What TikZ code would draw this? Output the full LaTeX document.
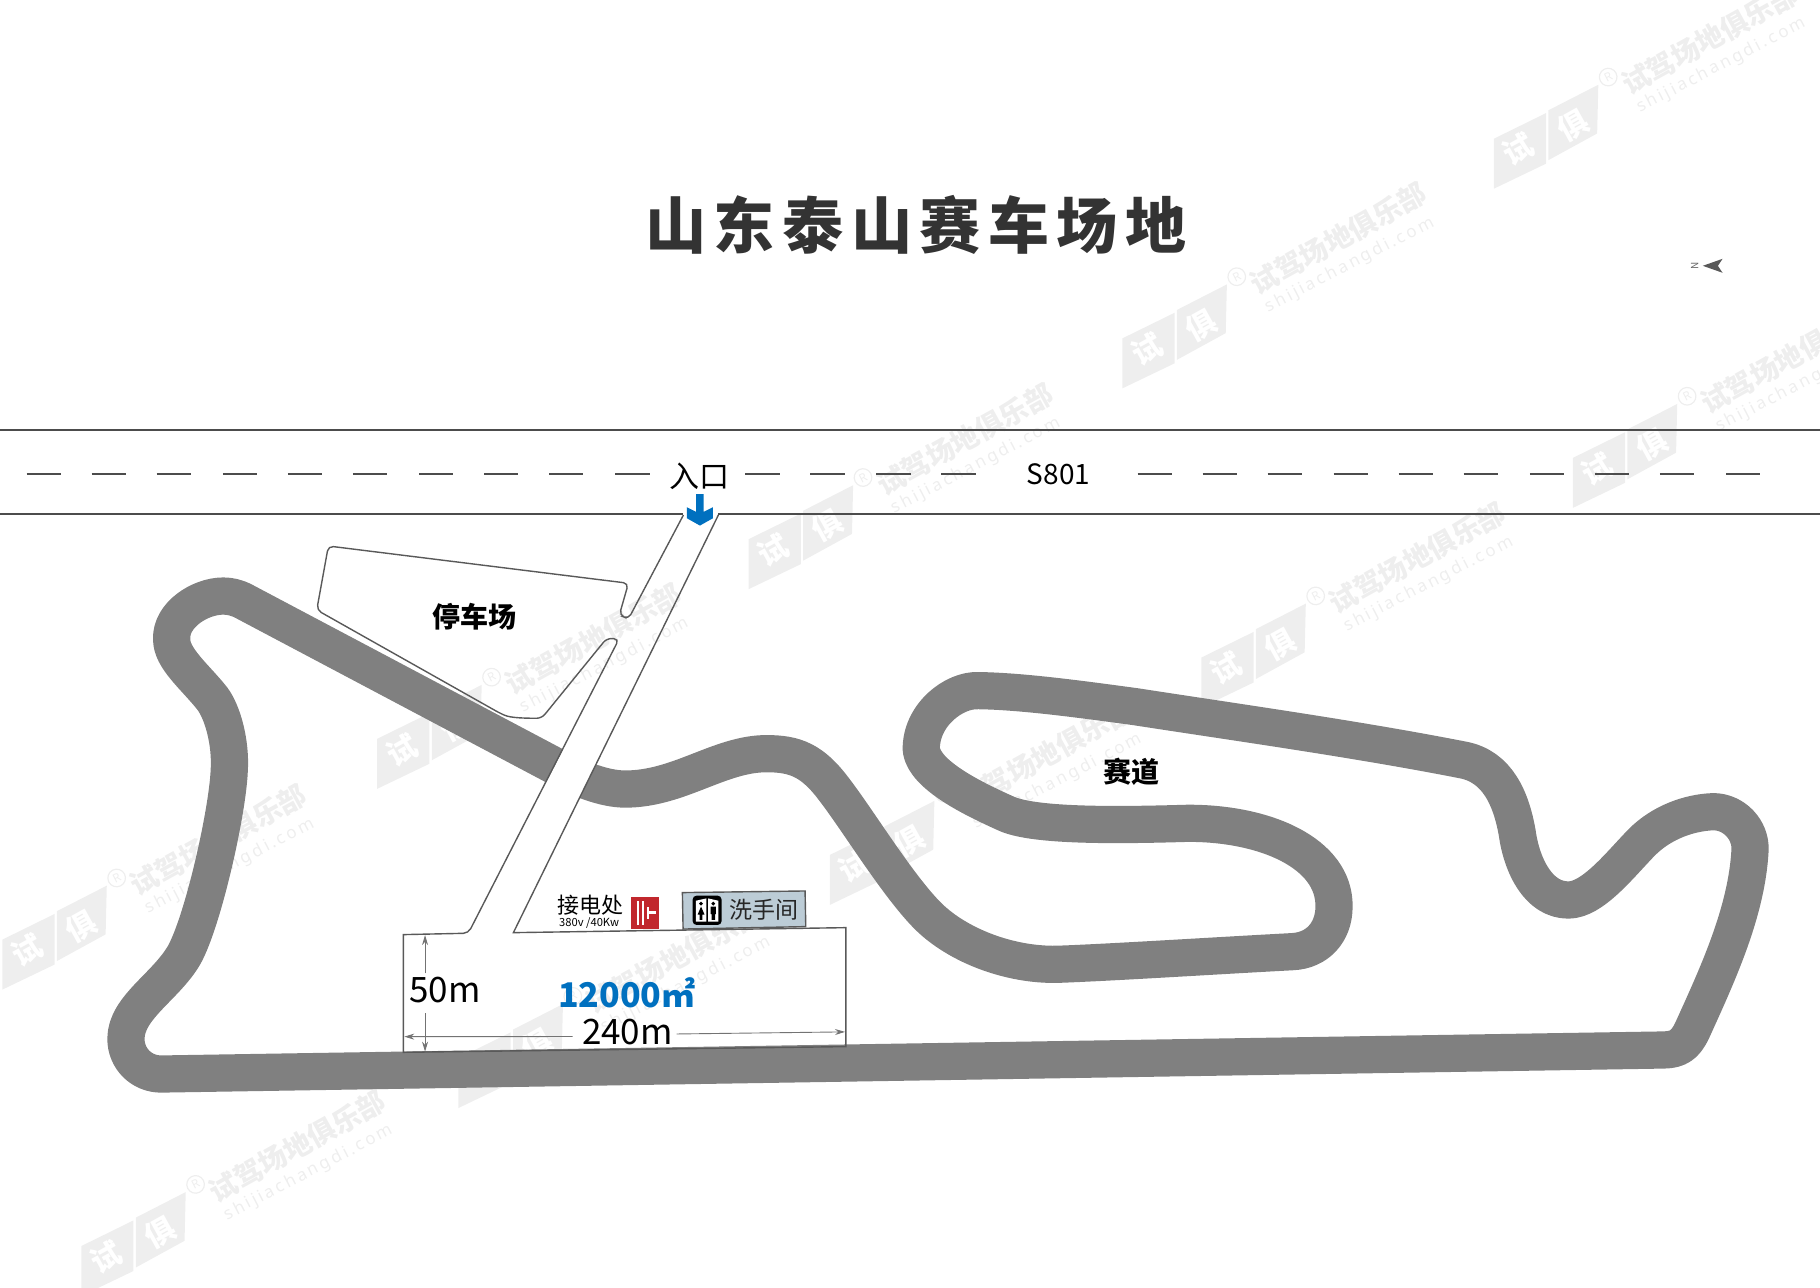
\documentclass[tikz,border=0pt]{standalone}
\usepackage{fontspec}
\setmainfont{Noto Sans CJK SC}
\newfontfamily\urlfont[LetterSpace=16]{Noto Sans}
\newfontfamily\titlefont[LetterSpace=12.5]{Noto Sans CJK SC}
\usetikzlibrary{arrows.meta}
\definecolor{trackgray}{HTML}{808080}
\definecolor{markgray}{HTML}{EEEEEE}
\definecolor{siteblue}{HTML}{0070BF}
\definecolor{powerred}{HTML}{C1272D}
\definecolor{signblue}{HTML}{BCCCD6}
\tikzset{
  track/.style={draw=trackgray, line width=18.6pt, line join=round},
  outline/.style={draw=black!65, line width=0.7pt},
  lane/.style={draw=black!70, line width=0.8pt},
  dimline/.style={draw=black!55, line width=0.45pt, -{Stealth[length=5pt,width=3pt]}},
  marktext/.style={text=markgray, font=\bfseries\fontsize{14}{14}\selectfont, rotate=29},
  markurl/.style={text=markgray, font=\urlfont\fontsize{8.5}{8.5}\selectfont, rotate=27.5},
  logochar/.style={text=white, font=\bfseries\fontsize{15}{15}\selectfont, rotate=29, inner sep=0pt},
  place/.style={font=\bfseries\fontsize{14}{14}\selectfont, inner sep=0pt},
  plain/.style={font=\fontsize{#1}{#1}\selectfont, inner sep=0pt}
}
\begin{document}
\begin{tikzpicture}[x=0.58036pt, y=-0.58036pt]
    \useasboundingbox (0,0) rectangle (1568,1108.8);

    % watermark
    \foreach \lx/\ly [count=\k] in {1332/118, 1012/290, 690/463, 1400/393, 1080/565,
        370/635, 760/735, 47/808, 440/910, 115/1072} {
        \begin{scope}[shift={(\lx,\ly)}]
            \fill[markgray] (-45,1.5) -- (0,-20.6) -- (0,23) -- (-45,44.6) -- cycle;
            \fill[markgray] (2,-23) -- (45,-45) -- (44,-3) -- (2,20) -- cycle;
            \node[logochar] (logoa\k) at (-24,11) {试};
            \node[logochar] (logob\k) at (23,-10) {俱};
            \node[circle, draw=markgray, line width=0.6pt, text=markgray, inner sep=0pt,
                minimum size=8.8pt, font=\urlfont\fontsize{6}{6}\selectfont, rotate=27] (regmark\k) at (53.5,-51.6) {R};
            \node[marktext] (marktext\k) at (141,-84.6) {试驾场地俱乐部};
            \node[markurl] (markurl\k) at (151,-61.6) {shijiachangdi.com};
        \end{scope}
    }

    % title and north mark
    \node[text=black!80, font=\titlefont\bfseries\fontsize{30.5}{30.5}\selectfont, inner sep=0pt] (title) at (789,194) {山东泰山赛车场地};
    \node[plain=5, text=black!60, rotate=90] (north) at (1460,229) {N};
    \fill[black!65] (1467,229) -- (1484,223) -- (1480,229) -- (1484,235) -- cycle;

    % highway
    \draw[lane] (0,370.4) -- (1568,370.4);
    \foreach \d in {23,79,135,192,248,304,361,417,473,530,642,698,755,811,
        980,1036,1092,1149,1205,1261,1318,1374,1430,1487}
        \draw[lane] (\d,408.3) -- ++(29.6,0);
    \node[plain=15] (gate) at (603,410) {入口};
    \node[plain=14] (s801) at (912,408.5) {S801};

    % racing track
    \draw[track] (1433,904.6)
        .. controls (1445,904.4) and (1451.7,901) .. (1458,887.4)
        .. controls (1480,839) and (1505,785) .. (1507.7,732.3)
        .. controls (1508.5,715) and (1494,699.3) .. (1476,699.3)
        .. controls (1456,700) and (1432,708) .. (1414.4,725.7)
        .. controls (1395,745.7) and (1372,775.4) .. (1351.2,775.4)
        .. controls (1325,775.4) and (1311,745) .. (1307.2,718)
        .. controls (1302,688) and (1290,660.5) .. (1260.7,654.8)
        .. controls (1170,637) and (1070,623) .. (978,608.8)
        .. controls (930,602.3) and (880,595.5) .. (842.9,595)
        .. controls (822,594) and (793,616) .. (793.7,646.2)
        .. controls (797,668) and (838,688) .. (867.7,701.3)
        .. controls (893,712) and (965,711) .. (1023.1,709.3)
        .. controls (1090,709) and (1150,735) .. (1149.3,781.1)
        .. controls (1149.3,803) and (1135,819) .. (1113.2,819.9)
        .. controls (1045,823.5) and (960,829) .. (910.5,830.8)
        .. controls (870,831.5) and (826,815) .. (800.1,789.8)
        .. controls (774,764) and (740,708) .. (719,680.6)
        .. controls (700,655) and (685,649.3) .. (660.4,649.3)
        .. controls (620,649.3) and (585,679.8) .. (538.7,679.8)
        .. controls (520,679.8) and (498,670.5) .. (482,662)
        -- (210.2,518.1)
        .. controls (204,514.8) and (198,513.5) .. (192.4,513.5)
        .. controls (172,513.5) and (147,530) .. (147.9,550.4)
        .. controls (147.5,567) and (168,583) .. (182.9,601.8)
        .. controls (192,614) and (199,640) .. (197.5,663.8)
        .. controls (196,700) and (175,793) .. (158.8,822.5)
        .. controls (143,850) and (108.5,868) .. (108.5,895)
        .. controls (108.5,912) and (122,925.5) .. (139.2,925.3)
        -- cycle;
    \fill[white] (493.4,630) -- (527.5,630) -- (483.2,720) -- (446.9,720) -- cycle;

    % road, parking and site outline
    \draw[lane] (0,442.8) -- (588.8,442.8);
    \draw[lane] (618.9,442.8) -- (1568,442.8);
    \draw[outline] (588.8,443.7) [rounded corners=2.5] -- (541.4,533.3) -- (533.6,529.8)
        -- (541.4,502.5) -- (282.9,470.4) -- (272.9,525.5) -- (430.8,614.5)
        .. controls (440,618.5) and (452,618.8) .. (466.7,618.8)
        -- (522.7,549.9) -- (533.3,550.5) -- (403.5,804) [sharp corners]
        -- (347.5,805.2) -- (347.5,906.6) -- (728.8,901.7) -- (728.8,799.2)
        -- (442.3,803.5) -- (618.9,443.7);

    \node[place] (parking) at (409,531) {停车场};
    \node[place] (trackname) at (975,665) {赛道};

    % entrance arrow
    \fill[siteblue] (599.8,425.6) -- (606.2,425.6) -- (606.2,441) -- (614.2,437) -- (614.2,446.5)
        -- (603,452.8) -- (591.8,446.5) -- (591.8,437) -- (599.8,441) -- cycle;

    % power and wash room
    \node[plain=11] (power) at (509,780) {接电处};
    \node[plain=5.6] (powerspec) at (507.5,795.5) {380v /40Kw};
    \fill[powerred] (543.3,772.5) rectangle (567.7,800.3);
    \fill[white] (548.5,776.5) rectangle (550.5,796.5);
    \fill[white] (552.8,776.5) rectangle (554.8,796.5);
    \fill[white] (557.7,781) rectangle (559.4,791.5);
    \fill[white] (559.4,785) rectangle (565.1,787.5);

    \draw[outline, fill=signblue] (587.9,769) -- (693.6,767.6) -- (694.2,798.3) -- (588.5,800.4) -- cycle;
    \fill[black, rounded corners=2] (596.7,771.6) rectangle (621.7,796.9);
    \fill[white] (599.5,776) -- (608.5,774) -- (608.5,794) -- (599.5,794) -- cycle;
    \fill[white] (610,774) -- (619,776) -- (619,794) -- (610,794) -- cycle;
    \fill[black] (604,778.5) circle (1.7) (604,781) -- (607,788) -- (601,788) -- cycle (602.8,788) rectangle (605.2,792.5);
    \fill[black] (614.5,778.5) circle (1.7) (612.3,781) rectangle (616.7,787.5) (613,787.5) rectangle (616,792.5);
    \node[plain=11.5, text=black!85] (wash) at (658,784) {洗手间};

    % site size
    \node[plain=17.5, text=black] (width) at (540.5,889) {240m};
    \node[plain=17.5, text=black] (depth) at (383.5,853) {50m};
    \node[font=\bfseries\fontsize{17}{17}\selectfont, text=siteblue, inner sep=0pt] (area) at (540,855) {12000㎡};

    \coordinate (depthtop) at (366.2,805.6);
    \coordinate (depthlow) at (366.2,906);
    \coordinate (depthup) at (366.2,838.5);
    \coordinate (depthdown) at (366.2,873);
    \coordinate (widthleft) at (348.3,893.1);
    \coordinate (widthright) at (728,889);
    \draw[dimline] (depthup) -- (depthtop);
    \draw[dimline] (depthdown) -- (depthlow);
    \draw[dimline] (493.4,893) -- (widthleft);
    \draw[dimline] (583,890.8) -- (widthright);
\end{tikzpicture}
\end{document}
